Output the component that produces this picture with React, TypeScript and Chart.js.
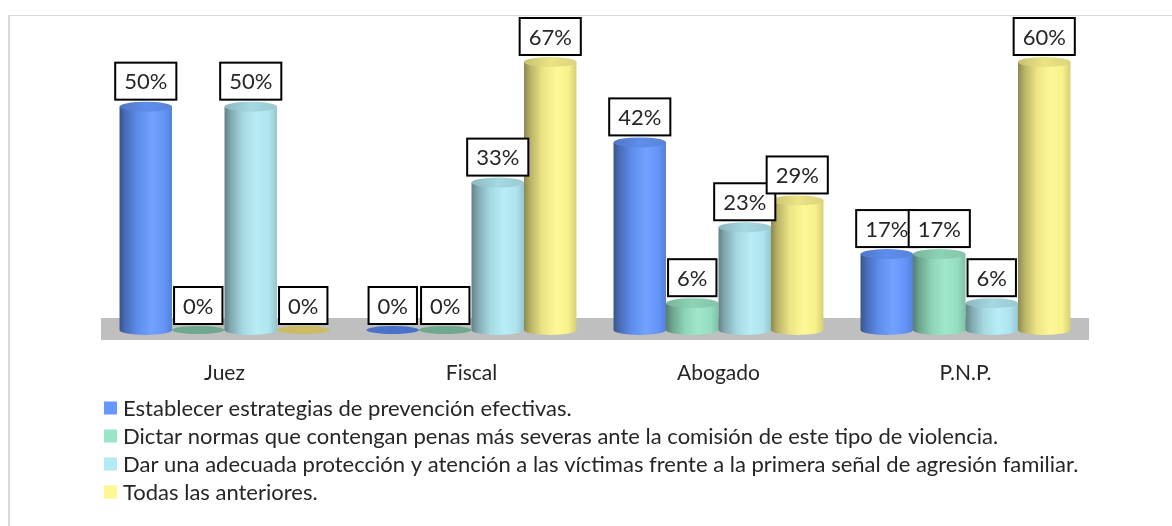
import React, { useEffect, useRef } from "react";
import { Chart, registerables } from "chart.js";

Chart.register(...registerables);

const categories = ["Juez", "Fiscal", "Abogado", "P.N.P."];
const seriesNames = [
  "Establecer estrategias de prevención efectivas.",
  "Dictar normas que contengan penas más severas ante la comisión de este tipo de violencia.",
  "Dar una adecuada protección y atención a las víctimas frente a la primera señal de agresión familiar.",
  "Todas las anteriores.",
];
const establecer = [50, 0, 42, 17];
const dictar = [0, 0, 6, 17];
const darProteccion = [50, 33, 23, 6];
const todas = [0, 67, 29, 60];
const seriesColors = ["#6699ff", "#99e5c5", "#b3ebf5", "#fff78f"];
const zeroColors = ["#4a72c8", "#6ea88e", "#8fbcc6", "#cbbb62"];
const yMax = 60;

const FONT = 'Lato, "Open Sans", sans-serif';

function hexToRgb(h: string) {
  const n = parseInt(h.slice(1), 16);
  return [(n >> 16) & 255, (n >> 8) & 255, n & 255];
}
function shade(h: string, f: number) {
  const [r, g, b] = hexToRgb(h);
  return `rgb(${Math.round(r * f)},${Math.round(g * f)},${Math.round(b * f)})`;
}
function lighten(h: string, f: number) {
  const [r, g, b] = hexToRgb(h);
  return `rgb(${Math.round(r + (255 - r) * f)},${Math.round(g + (255 - g) * f)},${Math.round(b + (255 - b) * f)})`;
}

function drawCylinder(ctx: CanvasRenderingContext2D, x: number, w: number, yTop: number, yBase: number, color: string, ry: number) {
  const l = x - w / 2;
  const r = x + w / 2;
  const g = ctx.createLinearGradient(l, 0, r, 0);
  g.addColorStop(0, shade(color, 0.55));
  g.addColorStop(0.12, shade(color, 0.72));
  g.addColorStop(0.35, shade(color, 0.92));
  g.addColorStop(0.62, lighten(color, 0.08));
  g.addColorStop(0.85, shade(color, 0.97));
  g.addColorStop(1, shade(color, 0.84));
  ctx.save();
  ctx.beginPath();
  ctx.moveTo(l, yTop);
  ctx.lineTo(l, yBase);
  ctx.ellipse(x, yBase, w / 2, ry, 0, Math.PI, 0, true);
  ctx.lineTo(r, yTop);
  ctx.closePath();
  ctx.fillStyle = g;
  ctx.fill();
  const gt = ctx.createLinearGradient(l, 0, r, 0);
  gt.addColorStop(0, shade(color, 0.78));
  gt.addColorStop(0.5, shade(color, 0.92));
  gt.addColorStop(1, shade(color, 0.86));
  ctx.beginPath();
  ctx.ellipse(x, yTop, w / 2, ry, 0, 0, Math.PI * 2);
  ctx.fillStyle = gt;
  ctx.fill();
  ctx.restore();
}

const cylinderPlugin = {
  id: "cylinders",
  beforeDatasetsDraw(chart: any) {
    const ctx = chart.ctx as CanvasRenderingContext2D;
    const area = chart.chartArea;
    const y0 = chart.scales.y.getPixelForValue(0);
    ctx.save();
    ctx.fillStyle = "#bfbfbf";
    ctx.fillRect(area.left, y0 - 12, area.right - area.left, 22);
    ctx.restore();
    chart.data.datasets.forEach((ds: any, di: number) => {
      const meta = chart.getDatasetMeta(di);
      meta.data.forEach((el: any, i: number) => {
        const v = ds.data[i];
        const w = el.width;
        if (v === 0) {
          ctx.save();
          ctx.beginPath();
          ctx.ellipse(el.x, el.base, w / 2, 4, 0, 0, Math.PI * 2);
          ctx.fillStyle = zeroColors[di];
          ctx.fill();
          ctx.restore();
        } else {
          const top = Math.max(el.y, area.top);
          drawCylinder(ctx, el.x, w, top, el.base, seriesColors[di], 5);
        }
      });
    });
    return false;
  },
  afterDraw(chart: any) {
    const ctx = chart.ctx as CanvasRenderingContext2D;
    const area = chart.chartArea;
    ctx.save();
    ctx.font = `22px ${FONT}`;
    ctx.textAlign = "center";
    ctx.textBaseline = "middle";
    chart.data.datasets.forEach((ds: any, di: number) => {
      const meta = chart.getDatasetMeta(di);
      meta.data.forEach((el: any, i: number) => {
        const v = ds.data[i];
        const txt = `${v}%`;
        const top = Math.max(el.y, area.top);
        const bw = ctx.measureText(txt).width + 18;
        const bh = 37;
        const by = top - (v === 0 ? 4 : 5) - 2 - bh;
        const bx = el.x - bw / 2;
        ctx.fillStyle = "#ffffff";
        ctx.fillRect(bx, by, bw, bh);
        ctx.lineWidth = 2;
        ctx.strokeStyle = "#000000";
        ctx.strokeRect(bx, by, bw, bh);
        ctx.fillStyle = "#262626";
        ctx.fillText(txt, el.x, by + bh / 2 + 1);
      });
    });
    ctx.restore();
    const ly = area.bottom + 78;
    ctx.save();
    ctx.font = `22px ${FONT}`;
    ctx.textAlign = "left";
    ctx.textBaseline = "middle";
    seriesNames.forEach((name, i) => {
      const cy = ly + i * 28;
      ctx.fillStyle = seriesColors[i];
      ctx.fillRect(area.left + 3, cy - 6.5, 13, 13);
      ctx.fillStyle = "#262626";
      ctx.fillText(name, area.left + 22, cy + 1);
    });
    ctx.restore();
  },
};

export default function App() {
  const ref = useRef<HTMLCanvasElement>(null);
  useEffect(() => {
    if (!ref.current) return;
    const chart = new Chart(ref.current, {
      type: "bar",
      data: {
        labels: categories,
        datasets: [
          { label: seriesNames[0], data: establecer, backgroundColor: seriesColors[0] },
          { label: seriesNames[1], data: dictar, backgroundColor: seriesColors[1] },
          { label: seriesNames[2], data: darProteccion, backgroundColor: seriesColors[2] },
          { label: seriesNames[3], data: todas, backgroundColor: seriesColors[3] },
        ],
      },
      options: {
        animation: false,
        responsive: true,
        maintainAspectRatio: false,
        layout: { padding: { left: 101, right: 83, top: 62, bottom: 136 } },
        datasets: { bar: { categoryPercentage: 0.85, barPercentage: 1.0 } },
        plugins: { legend: { display: false }, tooltip: { enabled: false } },
        scales: {
          y: { display: false, min: 0, max: yMax },
          x: {
            grid: { display: false },
            border: { display: false },
            ticks: { padding: 23, color: "#262626", font: { family: FONT, size: 21 } },
            afterFit: (scale: any) => {
              scale.height = 60;
            },
          },
        },
      } as any,
      plugins: [cylinderPlugin],
    });
    return () => chart.destroy();
  }, []);
  return (
    <div style={{ position: "fixed", left: 0, top: 0, width: 1172, height: 526, overflow: "hidden", background: "#fff" }}>
      <div
        style={{
          position: "absolute",
          left: 8,
          top: 15,
          width: 1300,
          height: 700,
          borderTop: "1px solid #d9d9d9",
          borderLeft: "2px solid #d9d9d9",
        }}
      />
      <div style={{ position: "absolute", left: 0, top: 0, width: 1172, height: 526 }}>
        <canvas ref={ref} />
      </div>
    </div>
  );
}
